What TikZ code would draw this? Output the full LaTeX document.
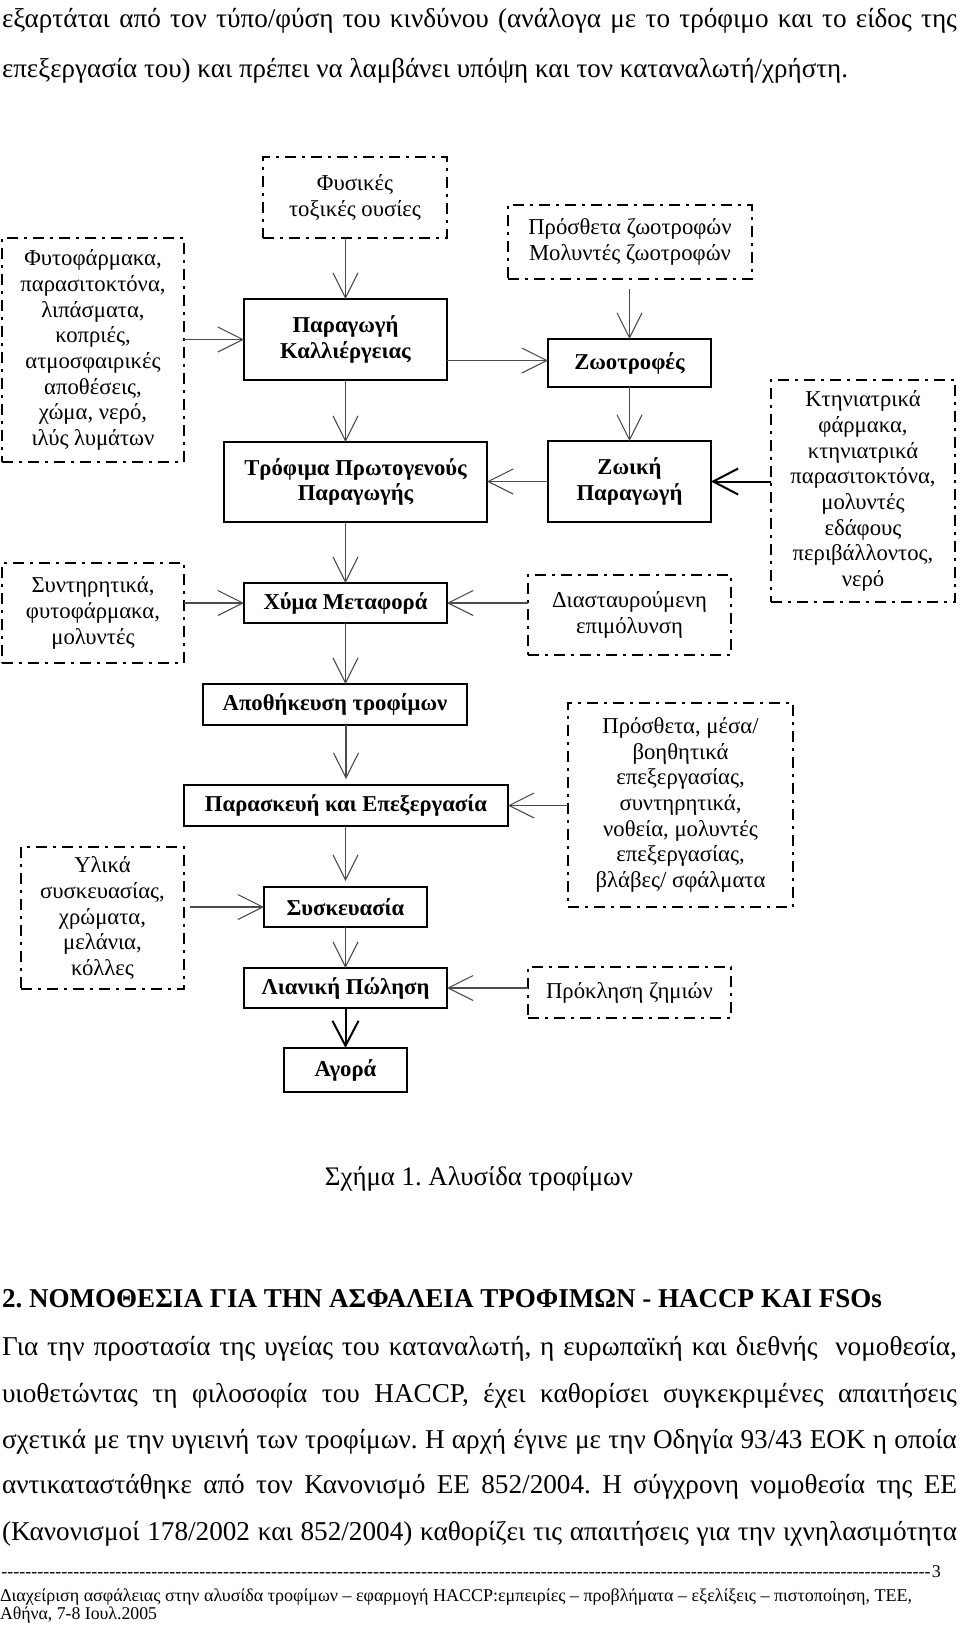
\documentclass[tikz,border=0pt]{standalone}
\usepackage{fontspec}
\usepackage{graphicx}
\setmainfont{Liberation Serif}
\frenchspacing
\usetikzlibrary{arrows.meta}
\newcommand{\diagfont}{\fontsize{22.7}{25.7}\selectfont}
\newcommand{\bodyfont}{\fontsize{27.2}{28}\selectfont}
\newcommand{\footsize}{\fontsize{18}{18}\selectfont}
\newcommand{\bx}[7]{\node[#1, minimum width={(#4-#2)*1pt}, minimum height={(#5-#3)*1pt}] (#7) at ({(#2+#4)/2},{(#3+#5)/2}) {#6};}
\tikzset{
  dbox/.style={draw, line width=2.8pt, dash pattern=on 11pt off 6pt on 3pt off 6pt, inner sep=0pt, outer sep=0pt, align=center, font=\diagfont},
  sbox/.style={draw, line width=2pt, inner sep=0pt, outer sep=0pt, align=center, font=\diagfont\bfseries},
  arr/.style={draw=black!70, line width=1.1pt, -{Straight Barb[length=25pt,width=25pt,line width=1.1pt]}},
  tarr/.style={draw=black, line width=2pt, -{Straight Barb[length=25pt,width=26pt,line width=2pt]}},
  txt/.style={inner sep=0pt, outer sep=0pt, anchor=base west, font=\bodyfont},
}
\begin{document}
\begin{tikzpicture}[x=1pt,y=-1pt]
\fill[white] (0,0) rectangle (960,1626);
\useasboundingbox (0,0) rectangle (960,1626);

% running text above
\node[txt] (t1) at (2,27) {\makebox[955pt][s]{εξαρτάται από τον τύπο/φύση του κινδύνου (ανάλογα με το τρόφιμο και το είδος της}};
\node[txt] (t2) at (2,77) {\resizebox{846pt}{\height}{επεξεργασία του) και πρέπει να λαμβάνει υπόψη και τον καταναλωτή/χρήστη.}};

% dashed boxes
\bx{dbox}{263}{157}{447}{238}{Φυσικές\\τοξικές ουσίες}{phys}
\bx{dbox}{2}{238}{184}{462}{Φυτοφάρμακα,\\παρασιτοκτόνα,\\λιπάσματα,\\κοπριές,\\ατμοσφαιρικές\\αποθέσεις,\\χώμα, νερό,\\ιλύς λυμάτων}{agro}
\bx{dbox}{2}{563}{184}{663}{Συντηρητικά,\\φυτοφάρμακα,\\μολυντές}{pres}
\bx{dbox}{508}{205}{752}{279}{Πρόσθετα ζωοτροφών\\Μολυντές ζωοτροφών}{feedadd}
\bx{dbox}{771}{380}{955}{602}{Κτηνιατρικά\\φάρμακα,\\κτηνιατρικά\\παρασιτοκτόνα,\\μολυντές\\εδάφους\\περιβάλλοντος,\\νερό}{vet}
\bx{dbox}{528}{575}{731}{655}{Διασταυρούμενη\\επιμόλυνση}{cross}
\bx{dbox}{568}{703}{793}{907}{Πρόσθετα, μέσα/\\βοηθητικά\\επεξεργασίας,\\συντηρητικά,\\νοθεία, μολυντές\\επεξεργασίας,\\βλάβες/ σφάλματα}{procadd}
\bx{dbox}{21}{847}{184}{989}{Υλικά\\συσκευασίας,\\χρώματα,\\μελάνια,\\κόλλες}{pack}
\bx{dbox}{528}{967}{731}{1018}{Πρόκληση ζημιών}{damage}

% solid boxes
\bx{sbox}{244}{299}{447}{380}{Παραγωγή\\Καλλιέργειας}{cult}
\bx{sbox}{224}{442}{487}{522}{Τρόφιμα Πρωτογενούς\\Παραγωγής}{prim}
\bx{sbox}{244}{583}{447}{623}{Χύμα Μεταφορά}{bulk}
\bx{sbox}{548}{339}{711}{387}{Ζωοτροφές}{feed}
\bx{sbox}{548}{441}{711}{522}{Ζωική\\Παραγωγή}{anim}
\bx{sbox}{203}{684}{467}{725}{Αποθήκευση τροφίμων}{store}
\bx{sbox}{184}{785}{508}{826}{Παρασκευή και Επεξεργασία}{proc}
\bx{sbox}{264}{887}{427}{927}{Συσκευασία}{packg}
\bx{sbox}{244}{968}{447}{1008}{Λιανική Πώληση}{retail}
\bx{sbox}{284}{1048}{407}{1092}{Αγορά}{market}

% connectors
\draw[arr] (phys.south -| cult.north) -- (cult.north);
\draw[arr] (agro.east |- cult.west) -- (cult.west);
\draw[arr] (cult.south) -- (cult.south |- prim.north);
\draw[arr] (prim.south -| bulk.north) -- (bulk.north);
\draw[arr] (pres.east |- bulk.west) -- (bulk.west);
\draw[arr] ([yshift=-21pt]cult.east) -- ([yshift=-21pt]cult.east -| feed.west);
\draw[arr, shorten <=10pt] (feedadd.south -| feed.north) -- (feed.north);
\draw[arr] (feed.south) -- (anim.north);
\draw[arr] (anim.west) -- (anim.west -| prim.east);
\draw[tarr] (vet.west |- anim.east) -- (anim.east);
\draw[arr] (cross.west |- bulk.east) -- (bulk.east);
\draw[arr] (bulk.south) -- (bulk.south |- store.north);
\draw[arr, shorten >=6pt] (store.south -| proc.north) -- (proc.north);
\draw[arr] (procadd.west |- proc.east) -- (proc.east);
\draw[arr, shorten >=6pt] (proc.south -| packg.north) -- (packg.north);
\draw[arr, shorten <=6pt] (pack.east |- packg.west) -- (packg.west);
\draw[arr] (packg.south -| retail.north) -- (retail.north);
\draw[arr] (damage.west |- retail.east) -- (retail.east);
\draw[tarr] (retail.south -| market.north) -- (market.north);

% caption
\node[inner sep=0pt, anchor=base, font=\fontsize{26.8}{27}\selectfont] (cap) at (479,1185) {\resizebox{308pt}{\height}{Σχήμα 1. Αλυσίδα τροφίμων}};

% heading
\node[txt, font=\bodyfont\bfseries] (head) at (2,1307) {\resizebox{880pt}{\height}{2. ΝΟΜΟΘΕΣΙΑ ΓΙΑ ΤΗΝ ΑΣΦΑΛΕΙΑ ΤΡΟΦΙΜΩΝ - HACCP ΚΑΙ FSOs}};

% paragraph
\node[txt] (p1) at (2,1355) {\makebox[955pt][s]{Για την προστασία της υγείας του καταναλωτή, η ευρωπαϊκή και διεθνής\ \ νομοθεσία,}};
\node[txt] (p2) at (2,1402) {\makebox[955pt][s]{υιοθετώντας τη φιλοσοφία του HACCP, έχει καθορίσει συγκεκριμένες απαιτήσεις}};
\node[txt] (p3) at (2,1448) {\makebox[955pt][s]{σχετικά με την υγιεινή των τροφίμων. Η αρχή έγινε με την Οδηγία 93/43 ΕΟΚ η οποία}};
\node[txt] (p4) at (2,1493) {\makebox[955pt][s]{αντικαταστάθηκε από τον Κανονισμό ΕΕ 852/2004. Η σύγχρονη νομοθεσία της ΕΕ}};
\node[txt] (p5) at (2,1540) {\makebox[955pt][s]{(Κανονισμοί 178/2002 και 852/2004) καθορίζει τις απαιτήσεις για την ιχνηλασιμότητα}};

% footer
\node[txt, font=\footsize] (dash) at (0,1577) {\makebox[932pt][l]{\cleaders\hbox{-}\hfill}3};
\node[txt, font=\footsize] (f1) at (0,1601) {\resizebox{912pt}{\height}{Διαχείριση ασφάλειας στην αλυσίδα τροφίμων – εφαρμογή HACCP:εμπειρίες – προβλήματα – εξελίξεις – πιστοποίηση, ΤΕΕ,}};
\node[txt, font=\footsize] (f2) at (0,1619) {\resizebox{157pt}{\height}{Αθήνα, 7-8 Ιουλ.2005}};
\end{tikzpicture}
\end{document}
